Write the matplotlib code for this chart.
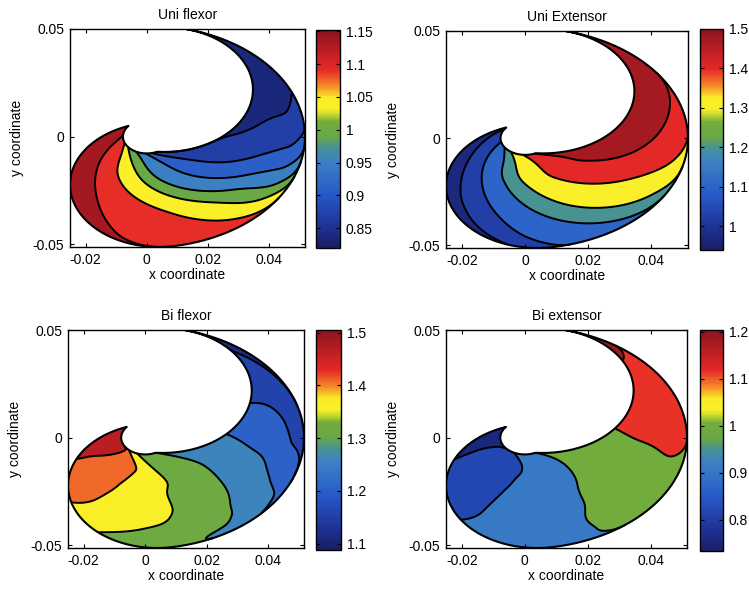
import numpy as np
import matplotlib
matplotlib.use("Agg")
import matplotlib.pyplot as plt
from matplotlib.colors import LinearSegmentedColormap, Normalize
from matplotlib.cm import ScalarMappable

plt.rcParams['font.family'] = ['Liberation Sans', 'DejaVu Sans']
plt.rcParams['font.size'] = 10
plt.rcParams['axes.unicode_minus'] = False

# ---- two-link limb geometry (lengths in m, joint angles in degrees) ----
L1 = 0.0226
L2 = 0.0290
shoulder_range = (-80.0, 75.6)
elbow_range = (0.0, 170.0)

# joint-angle nodes at which the muscle values are tabulated
shoulder_nodes = [-80, -65, -50, -35, -20, -5, 10, 25, 45, 75.6]
elbow_nodes = [0, 45, 90, 135, 170]

# one row per elbow node, one column per shoulder node
uni_flexor = [
    [1.118, 1.100, 1.082, 1.064, 1.006, 0.930, 0.875, 0.846, 0.836, 0.820],
    [1.128, 1.109, 1.091, 1.073, 1.041, 0.983, 0.926, 0.880, 0.845, 0.825],
    [1.147, 1.124, 1.101, 1.078, 1.051, 1.013, 0.969, 0.924, 0.874, 0.830],
    [1.150, 1.140, 1.103, 1.065, 1.033, 1.000, 0.963, 0.938, 0.900, 0.850],
    [1.152, 1.152, 1.131, 1.098, 1.064, 1.017, 0.990, 0.967, 0.933, 0.848],
]
uni_extensor = [
    [1.031, 1.074, 1.104, 1.134, 1.208, 1.329, 1.384, 1.418, 1.455, 1.500],
    [0.988, 1.037, 1.082, 1.126, 1.189, 1.272, 1.352, 1.397, 1.446, 1.490],
    [0.973, 1.014, 1.056, 1.117, 1.191, 1.269, 1.326, 1.379, 1.441, 1.480],
    [0.965, 1.003, 1.040, 1.102, 1.179, 1.262, 1.321, 1.373, 1.425, 1.470],
    [0.990, 1.010, 1.024, 1.039, 1.069, 1.160, 1.231, 1.289, 1.360, 1.450],
]
bi_flexor = [
    [1.318, 1.286, 1.250, 1.207, 1.173, 1.156, 1.140, 1.129, 1.116, 1.097],
    [1.335, 1.320, 1.306, 1.292, 1.266, 1.232, 1.201, 1.177, 1.164, 1.144],
    [1.392, 1.378, 1.364, 1.352, 1.334, 1.309, 1.283, 1.257, 1.225, 1.183],
    [1.442, 1.424, 1.409, 1.395, 1.381, 1.363, 1.344, 1.320, 1.292, 1.252],
    [1.498, 1.485, 1.471, 1.457, 1.445, 1.433, 1.377, 1.348, 1.321, 1.285],
]
bi_extensor = [
    [0.900, 0.927, 0.954, 0.988, 1.021, 1.054, 1.082, 1.109, 1.150, 1.204],
    [0.885, 0.907, 0.929, 0.952, 0.985, 1.017, 1.050, 1.079, 1.114, 1.172],
    [0.824, 0.850, 0.876, 0.901, 0.927, 0.953, 0.983, 1.012, 1.051, 1.110],
    [0.770, 0.791, 0.812, 0.833, 0.854, 0.878, 0.903, 0.928, 0.961, 1.010],
    [0.745, 0.752, 0.758, 0.765, 0.772, 0.778, 0.815, 0.862, 0.897, 0.951],
]

titles = ["Uni flexor", "Uni Extensor", "Bi flexor", "Bi extensor"]
contour_levels = [
    [0.85, 0.89, 0.93, 0.97, 1.01, 1.06, 1.12],
    [1.0, 1.05, 1.15, 1.25, 1.36, 1.44],
    [1.135, 1.18, 1.23, 1.285, 1.34, 1.385, 1.43],
    [0.78, 0.86, 0.95, 1.06, 1.17],
]
color_limits = [(0.82, 1.152), (0.94, 1.50), (1.088, 1.505), (0.734, 1.204)]
colorbar_ticks = [
    [0.85, 0.9, 0.95, 1.0, 1.05, 1.1, 1.15],
    [1.0, 1.1, 1.2, 1.3, 1.4, 1.5],
    [1.1, 1.2, 1.3, 1.4, 1.5],
    [0.8, 0.9, 1.0, 1.1, 1.2],
]
x_ticks = [-0.02, 0, 0.02, 0.04]
y_ticks = [-0.05, 0, 0.05]

# jet-like palette with the softer tones of a printed figure
palette = LinearSegmentedColormap.from_list("printed_jet", [
    (0.00, (25/255, 30/255, 100/255)),
    (0.10, (30/255, 50/255, 150/255)),
    (0.25, (40/255, 90/255, 200/255)),
    (0.40, (60/255, 130/255, 195/255)),
    (0.46, (70/255, 145/255, 150/255)),
    (0.51, (105/255, 168/255, 70/255)),
    (0.58, (115/255, 172/255, 60/255)),
    (0.615, (205/255, 218/255, 50/255)),
    (0.64, (250/255, 240/255, 40/255)),
    (0.69, (250/255, 235/255, 40/255)),
    (0.745, (245/255, 135/255, 40/255)),
    (0.82, (230/255, 40/255, 40/255)),
    (1.00, (140/255, 20/255, 30/255)),
])


def pchip(xk, yk, x):
    """Shape-preserving piecewise cubic through the tabulated points."""
    xk = np.asarray(xk, float)
    yk = np.asarray(yk, float)
    h = np.diff(xk)
    d = np.diff(yk) / h
    m = np.zeros_like(yk)
    m[0], m[-1] = d[0], d[-1]
    for k in range(1, len(xk) - 1):
        if d[k - 1] * d[k] > 0:
            w1 = 2 * h[k] + h[k - 1]
            w2 = h[k] + 2 * h[k - 1]
            m[k] = (w1 + w2) / (w1 / d[k - 1] + w2 / d[k])
    i = np.clip(np.searchsorted(xk, x) - 1, 0, len(h) - 1)
    t = (x - xk[i]) / h[i]
    return ((2 * t**3 - 3 * t**2 + 1) * yk[i]
            + (t**3 - 2 * t**2 + t) * h[i] * m[i]
            + (-2 * t**3 + 3 * t**2) * yk[i + 1]
            + (t**3 - t**2) * h[i] * m[i + 1])


# fine joint-angle mesh and endpoint positions
th1 = np.linspace(*shoulder_range, 280)
th2 = np.linspace(*elbow_range, 180)
T1, T2 = np.meshgrid(np.radians(th1), np.radians(th2))
X = L1 * np.cos(T1) + L2 * np.cos(T1 - T2)
Y = L1 * np.sin(T1) + L2 * np.sin(T1 - T2)


def on_mesh(table):
    tab = np.asarray(table, dtype=float)
    rows = np.array([pchip(shoulder_nodes, r, th1) for r in tab])
    return np.array([pchip(elbow_nodes, rows[:, i], th2)
                     for i in range(th1.size)]).T


# outline of the reachable region
bx = np.concatenate([X[0, :], X[:, -1], X[-1, ::-1], X[::-1, 0]])
by = np.concatenate([Y[0, :], Y[:, -1], Y[-1, ::-1], Y[::-1, 0]])

W, H = 749, 594
fig = plt.figure(figsize=(W / 100, H / 100), dpi=100)


def px_axes(l, t, r, b):
    return fig.add_axes([l / W, 1 - b / H, (r - l) / W, (b - t) / H])


axes_boxes = [(70, 29, 305, 247), (446, 31, 688, 248),
              (68, 330, 304, 548), (446, 330, 687, 548)]
cbar_boxes = [(316, 30, 340, 248), (700, 29, 723, 250),
              (316, 330, 341, 550), (700, 330, 723, 551)]
fields = [uni_flexor, uni_extensor, bi_flexor, bi_extensor]

for k in range(4):
    ax = px_axes(*axes_boxes[k])
    vmin, vmax = color_limits[k]
    norm = Normalize(vmin, vmax)
    Z = np.clip(on_mesh(fields[k]), vmin, vmax)
    lev = [vmin] + contour_levels[k] + [vmax]
    ax.contourf(X, Y, Z, levels=lev, cmap=palette, norm=norm)
    ax.contour(X, Y, Z, levels=contour_levels[k], colors='k',
               linewidths=1.4)
    ax.plot(bx, by, color='k', lw=1.5)

    ax.set_xlim(X.min(), X.max())
    ax.set_ylim(Y.min(), Y.max())
    ax.set_xticks(x_ticks)
    ax.set_xticklabels(["%g" % v for v in x_ticks])
    ax.set_yticks(y_ticks)
    ax.set_yticklabels(["%g" % v for v in y_ticks])
    ax.tick_params(direction='in', length=3, width=0.8, top=True,
                   right=True, labelsize=10, pad=4)
    for s in ax.spines.values():
        s.set_linewidth(1.0)
    ax.set_title(titles[k], fontsize=10, pad=7.5)
    ax.set_xlabel("x coordinate", fontsize=10, labelpad=1)
    ax.set_ylabel("y coordinate", fontsize=10, labelpad=6)

    cax = px_axes(*cbar_boxes[k])
    sm = ScalarMappable(norm=norm, cmap=palette)
    cb = fig.colorbar(sm, cax=cax, ticks=colorbar_ticks[k])
    cb.ax.set_yticklabels(["%g" % v for v in colorbar_ticks[k]])
    cb.ax.tick_params(direction='in', length=3, width=0.8, labelsize=10,
                      pad=4, left=True, right=True)
    cb.outline.set_linewidth(1.0)

fig.savefig("out.png", dpi=100)
